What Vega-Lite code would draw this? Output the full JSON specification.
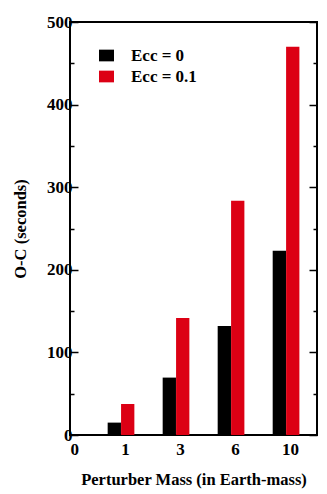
{
  "$schema": "https://vega.github.io/schema/vega-lite/v6.json",
  "width": 247,
  "height": 413,
  "autosize": {"type": "none"},
  "padding": {"left": 70, "top": 22, "right": 10, "bottom": 59},
  "config": {
    "view": {"stroke": "black", "strokeWidth": 2},
    "font": "Liberation Serif",
    "axis": {"domain": false, "grid": false}
  },
  "data": {
    "values": [
      {"mass": "1", "idx": 1, "ecc": "Ecc = 0", "oc": 15},
      {"mass": "1", "idx": 1, "ecc": "Ecc = 0.1", "oc": 37.5},
      {"mass": "3", "idx": 2, "ecc": "Ecc = 0", "oc": 69.5},
      {"mass": "3", "idx": 2, "ecc": "Ecc = 0.1", "oc": 141.5},
      {"mass": "6", "idx": 3, "ecc": "Ecc = 0", "oc": 132},
      {"mass": "6", "idx": 3, "ecc": "Ecc = 0.1", "oc": 283.5},
      {"mass": "10", "idx": 4, "ecc": "Ecc = 0", "oc": 223},
      {"mass": "10", "idx": 4, "ecc": "Ecc = 0.1", "oc": 470}
    ]
  },
  "layer": [
    {
      "transform": [{"filter": "datum.ecc == 'Ecc = 0'"}],
      "mark": {"type": "bar", "width": 13.3, "xOffset": -10.7},
      "encoding": {
        "x": {
          "field": "idx", "type": "quantitative",
          "scale": {"domain": [0, 4.49], "nice": false, "zero": false, "padding": 0},
          "axis": {
            "values": [0, 1, 2, 3, 4],
            "labelExpr": "['0','1','3','6','10'][datum.value]",
            "ticks": false,
            "labelFontSize": 17, "labelFontWeight": "bold", "labelColor": "black",
            "labelPadding": 6,
            "title": "Perturber Mass (in Earth-mass)",
            "titleFontSize": 16.5, "titleFontWeight": "bold", "titleColor": "black",
            "titlePadding": 14
          }
        },
        "y": {
          "field": "oc", "type": "quantitative",
          "scale": {"domain": [0, 500], "nice": false},
          "axis": {
            "orient": "left",
            "values": [0, 50, 100, 150, 200, 250, 300, 350, 400, 450, 500],
            "labelExpr": "datum.value % 100 === 0 ? datum.label : ''",
            "tickSize": {"condition": {"test": "datum.value % 100 === 0", "value": -8}, "value": -4},
            "tickWidth": 1.5, "tickColor": "black",
            "labelFontSize": 17, "labelFontWeight": "bold", "labelColor": "black",
            "labelPadding": 6,
            "title": "O-C (seconds)",
            "titleFontSize": 16.5, "titleFontWeight": "bold", "titleColor": "black",
            "titlePadding": 18
          }
        },
        "color": {
          "field": "ecc", "type": "nominal",
          "scale": {"domain": ["Ecc = 0", "Ecc = 0.1"], "range": ["#000000", "#dc0014"]},
          "legend": {
            "orient": "none", "legendX": 28, "legendY": 25,
            "title": null, "padding": 0,
            "symbolType": "M-1,-0.78L1,-0.78L1,0.78L-1,0.78Z",
            "symbolSize": 225, "symbolStrokeWidth": 0, "symbolOpacity": 1,
            "labelFontSize": 17, "labelFontWeight": "bold", "labelColor": "black",
            "labelOffset": 16, "rowPadding": 3
          }
        }
      }
    },
    {
      "transform": [{"filter": "datum.ecc == 'Ecc = 0.1'"}],
      "mark": {"type": "bar", "width": 13.3, "xOffset": 2.7},
      "encoding": {
        "x": {"field": "idx", "type": "quantitative"},
        "y": {
          "field": "oc", "type": "quantitative",
          "axis": {
            "orient": "right",
            "values": [0, 50, 100, 150, 200, 250, 300, 350, 400, 450, 500],
            "labels": false,
            "tickSize": {"condition": {"test": "datum.value % 100 === 0", "value": -8}, "value": -4},
            "tickWidth": 1.5, "tickColor": "black",
            "title": null
          }
        },
        "color": {"field": "ecc", "type": "nominal"}
      }
    }
  ],
  "resolve": {"axis": {"y": "independent"}}
}
